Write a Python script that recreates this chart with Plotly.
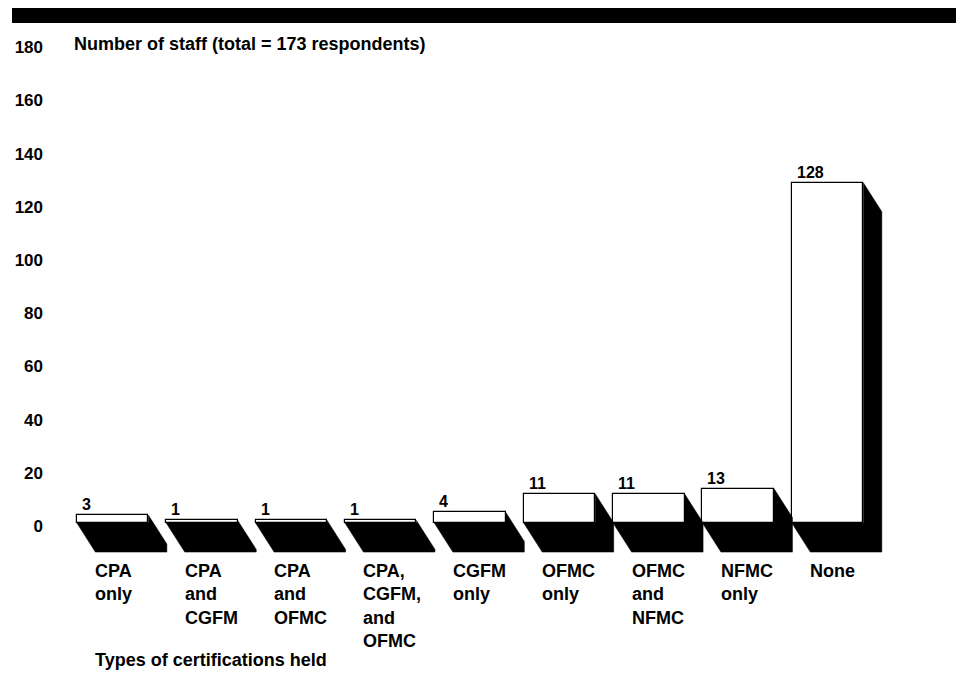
import plotly.graph_objects as go

# ---- data ----
categories = ["CPA<br>only", "CPA<br>and<br>CGFM", "CPA<br>and<br>OFMC",
              "CPA,<br>CGFM,<br>and<br>OFMC", "CGFM<br>only", "OFMC<br>only",
              "OFMC<br>and<br>NFMC", "NFMC<br>only", "None"]
values = [3, 1, 1, 1, 4, 11, 11, 13, 128]
y_ticks = [0, 20, 40, 60, 80, 100, 120, 140, 160, 180]
y_title = "Number of staff (total = 173 respondents)"
x_title = "Types of certifications held"

# ---- geometry (style) ----
# the page body adds an 8px margin, so the figure is laid out 8px up/left
W, H = 964, 677
ML, MR, MT, MB = 51, 64, 31, 130
XR = [-0.6, 8.9]
YR = [-12, 182]
bar_w = 0.8
PW, PH = W - ML - MR, H - MT - MB
px_x = PW / (XR[1] - XR[0])
px_y = PH / (YR[1] - YR[0])
dx = 18.5 / px_x   # depth offset in x units
dy = 29 / px_y     # depth offset in y units

FONT = "Liberation Sans, Arial, Helvetica, sans-serif"

xs = list(range(len(values)))

# extrusion (black side + floor) polygons, computed from data
px, py = [], []
for i, v in zip(xs, values):
    x0, x1 = i - bar_w / 2, i + bar_w / 2
    px += [x0, x0 + dx, x1 + dx, x1 + dx, x1, x1, x0, None]
    py += [0, -dy, -dy, v - dy, v, 0, 0, None]

fig = go.Figure()
fig.add_trace(go.Scatter(x=px, y=py, mode="lines", fill="toself",
                         fillcolor="black", line=dict(color="black", width=0.5),
                         hoverinfo="skip", showlegend=False))
fig.add_trace(go.Bar(x=xs, y=values, width=bar_w,
                     marker=dict(color="white", line=dict(color="black", width=1.2)),
                     showlegend=False))

ann = []
for i, v in zip(xs, values):
    ann.append(dict(x=i - bar_w / 2, y=v, xref="x", yref="y", text=str(v),
                    showarrow=False, xanchor="left", yanchor="bottom",
                    xshift=3, yshift=0,
                    font=dict(family=FONT, size=16, color="black", weight="bold")))
    ann.append(dict(x=i - bar_w / 2 + dx, y=-dy, xref="x", yref="y",
                    text=categories[i], showarrow=False, align="left",
                    xanchor="left", yanchor="top", xshift=-2, yshift=-7,
                    font=dict(family=FONT, size=18, color="black", weight="bold")))

ann.append(dict(x=0, y=180, xref="paper", yref="y", text=y_title, showarrow=False,
                xanchor="left", yanchor="middle", xshift=13,
                font=dict(family=FONT, size=18, color="black", weight="bold")))
ann.append(dict(x=0, y=0, xref="paper", yref="paper", text=x_title, showarrow=False,
                xanchor="left", yanchor="middle", xshift=34, yshift=-105,
                font=dict(family=FONT, size=18, color="black", weight="bold")))

# top black band, in figure pixels -> paper coords
band_x0, band_x1, band_y0, band_y1 = 4, 952, 0, 15
fig.update_layout(
    width=W, height=H,
    margin=dict(l=ML, r=MR, t=MT, b=MB, autoexpand=False),
    plot_bgcolor="white", paper_bgcolor="white",
    xaxis=dict(range=XR, showgrid=False, zeroline=False, showline=False,
               showticklabels=False, ticks="", automargin=False),
    yaxis=dict(range=YR, tickvals=y_ticks, showgrid=False, zeroline=False,
               showline=False, ticks="", ticklabelstandoff=15, ticklabelshift=3,
               automargin=False,
               tickfont=dict(family=FONT, size=17, color="black", weight="bold")),
    annotations=ann,
    shapes=[dict(type="rect", xref="paper", yref="paper",
                 x0=(band_x0 - ML) / PW, x1=(band_x1 - ML) / PW,
                 y0=(H - MB - band_y1) / PH, y1=(H - MB - band_y0) / PH,
                 fillcolor="black", line=dict(width=0), layer="above")],
    bargap=0,
)

fig.write_html("out.html")
